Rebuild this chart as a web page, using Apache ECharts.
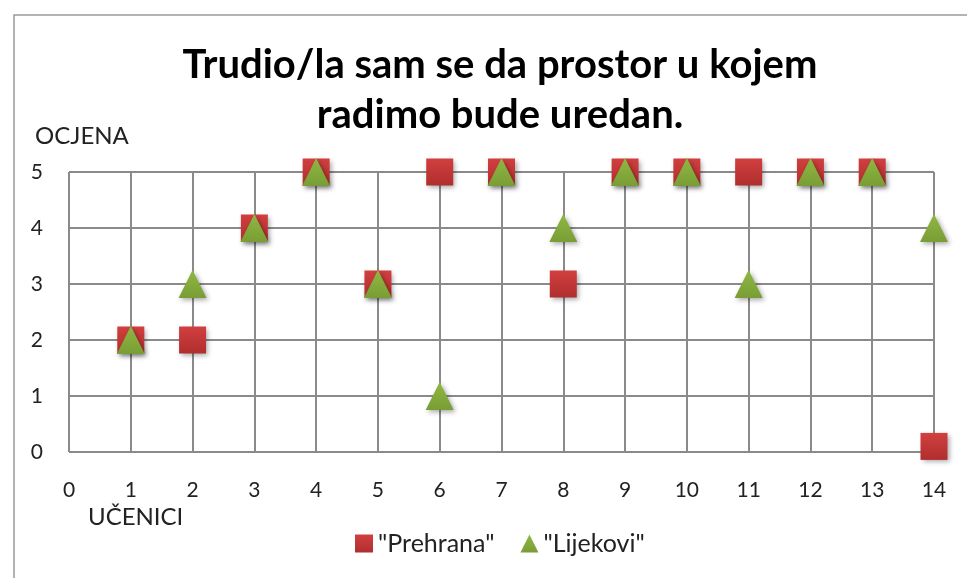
<!DOCTYPE html>
<html>
<head>
<meta charset="utf-8">
<script src="https://cdn.jsdelivr.net/npm/echarts@6/dist/echarts.min.js"></script>
<style>
html,body{margin:0;padding:0;background:#fff;}
#chart{width:967px;height:578px;}
</style>
</head>
<body>
<div id="chart"></div>
<script>
// ucenici 1..14
var ucenici = [1,2,3,4,5,6,7,8,9,10,11,12,13,14];
var prehrana = [2,2,4,5,3,5,5,3,5,5,5,5,5,0.1];
var lijekovi = [2,3,4,5,3,1,5,4,5,5,3,5,5,4];

function toPairs(vals){
  var out=[];
  for(var i=0;i<ucenici.length;i++){
    out.push([ucenici[i], vals[i]]);
  }
  return out;
}

var font = 'Lato, "Open Sans", sans-serif';
var chart = echarts.init(document.getElementById('chart'));
var option = {
  animation:false,
  title : {
    text : 'Trudio/la sam se da prostor u kojem\nradimo bude uredan.',
    left : 495,
    textAlign : 'center',
    top : 35,
    textStyle : {
      fontFamily : font,
      fontWeight : 'bold',
      fontSize : 40,
      lineHeight : 50,
      color : '#000'
    }
  },
  grid : {
    left : 69,
    right : 33,
    top : 172,
    bottom : 126
  },
  legend : {
    bottom : 17,
    left : 350,
    itemGap : 26,
    itemWidth : 18,
    itemHeight : 18,
    textStyle : {fontFamily:font, fontSize:25, color:'#222'},
    data : [
      {name:'"Prehrana"', icon:'rect'},
      {name:'"Lijekovi"', icon:'triangle'}
    ]
  },
  xAxis : {
    type : 'value',
    min : 0,
    max : 14,
    interval : 1,
    axisLine : {show:false},
    axisTick : {show:false},
    axisLabel : {margin:28, fontFamily:font, fontSize:21, color:'#222'},
    splitLine : {show:true, lineStyle:{color:'#8a8a8a', width:2}}
  },
  yAxis : {
    type : 'value',
    min : 0,
    max : 5,
    interval : 1,
    axisLine : {show:false},
    axisTick : {show:false},
    axisLabel : {margin:26, fontFamily:font, fontSize:21, color:'#222'},
    splitLine : {show:true, lineStyle:{color:'#8a8a8a', width:2}}
  },
  graphic : [
    {type:'rect', shape:{x:14, y:15, width:1000, height:1000}, style:{fill:'none', stroke:'#9a9a9a', lineWidth:1.5}, z:-1},
    {type:'text', left:35, top:124, style:{text:'OCJENA', fontFamily:font, fontSize:24, fill:'#222'}},
    {type:'text', left:88, top:505, style:{text:'UČENICI', fontFamily:font, fontSize:24, fill:'#222'}}
  ],
  series : [
    {
      name : '"Prehrana"',
      type : 'scatter',
      symbol : 'rect',
      symbolSize : 27,
      itemStyle : {
        opacity : 1,
        color : new echarts.graphic.LinearGradient(0,0,0,1,[
          {offset:0, color:'#d23f3f'},
          {offset:1, color:'#b02e2e'}
        ]),
        shadowBlur : 5,
        shadowColor : 'rgba(0,0,0,0.35)',
        shadowOffsetX : 2,
        shadowOffsetY : 2
      },
      data : toPairs(prehrana)
    },
    {
      name : '"Lijekovi"',
      type : 'scatter',
      symbol : 'triangle',
      symbolSize : 28,
      itemStyle : {
        opacity : 1,
        color : new echarts.graphic.LinearGradient(0,0,0,1,[
          {offset:0, color:'#8fb843'},
          {offset:1, color:'#799d35'}
        ]),
        shadowBlur : 5,
        shadowColor : 'rgba(0,0,0,0.35)',
        shadowOffsetX : 2,
        shadowOffsetY : 2
      },
      data : toPairs(lijekovi)
    }
  ]
};
chart.setOption(option);
</script>
</body>
</html>
